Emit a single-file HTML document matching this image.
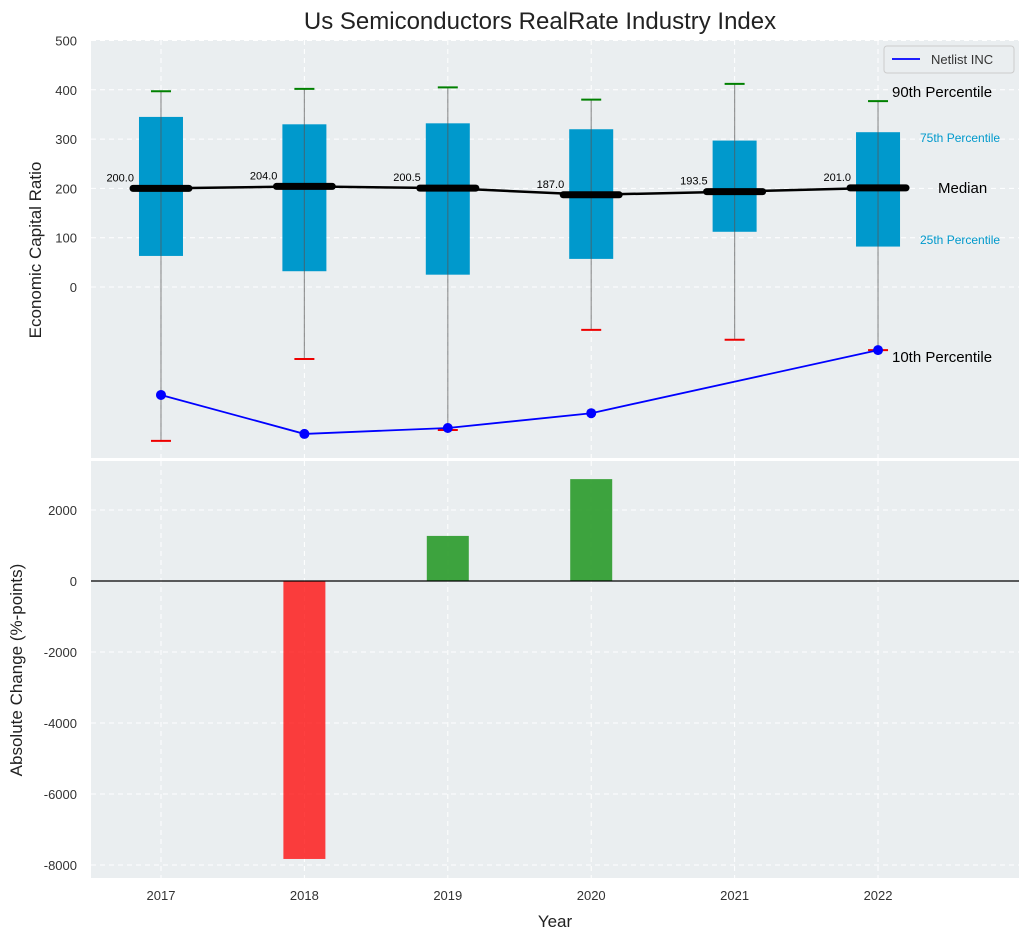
<!DOCTYPE html>
<html><head><meta charset="utf-8"><style>
body{margin:0;background:#fff;font-family:"Liberation Sans",sans-serif}
svg text{font-family:"Liberation Sans",sans-serif}
</style></head><body>
<svg id="c" width="1029" height="940" xmlns="http://www.w3.org/2000/svg"></svg>
<script>
const years=[2017,2018,2019,2020,2021,2022];
const q1=[63,32,25,57,112,82];
const q3=[345,330,332,320,297,314];
const medians=[200,204,200.5,187,193.5,201];
const p90=[397,402,405,380,412,377];
const p10=[-312,-146,-290,-87,-107,-128];
const netlist=[-219,-298,-286,-256,null,-128];
const changes=[null,-7830,1270,2870,null,null];
const topTicks=[0,100,200,300,400,500];
const botTicks=[-8000,-6000,-4000,-2000,0,2000];

const NS="http://www.w3.org/2000/svg";
const svg=document.getElementById('c');
function el(t,a,p){const e=document.createElementNS(NS,t);for(const k in a)e.setAttribute(k,a[k]);(p||svg).appendChild(e);return e;}
const L=91,R=1019;
const X0=2016.512,X1=2022.983;
const x=v=>L+(v-X0)/(X1-X0)*(R-L);
const yT=v=>287-v*0.493;
const yB=v=>581-v*0.0355;

let t=el('text',{x:540,y:29,'text-anchor':'middle','font-size':24,fill:'#222'});t.textContent='Us Semiconductors RealRate Industry Index';


let g1=el('g',{});
el('rect',{x:L,y:40,width:R-L,height:418,fill:'#eaeef0'},g1);
years.forEach(yr=>el('line',{x1:x(yr),x2:x(yr),y1:40,y2:458,stroke:'#fff','stroke-dasharray':'5,4','stroke-width':1},g1));
topTicks.forEach(v=>{el('line',{x1:L,x2:R,y1:yT(v),y2:yT(v),stroke:'#fff','stroke-dasharray':'5,4'},g1);
 const tt=el('text',{x:L-14,y:yT(v)+5,'text-anchor':'end','font-size':13,fill:'#333'},g1);tt.textContent=v;
 });
years.forEach((yr,i)=>{
 const cx=x(yr);
 const b=el('rect',{x:cx-22,y:yT(q3[i]),width:44,height:yT(q1[i])-yT(q3[i]),fill:'#0099cc'},g1);
 
 el('line',{x1:cx,x2:cx,y1:yT(p90[i]),y2:yT(p10[i]),stroke:'#555','stroke-opacity':0.6,'stroke-width':1.2},g1);
 el('line',{x1:cx-10,x2:cx+10,y1:yT(p90[i]),y2:yT(p90[i]),stroke:'#008000','stroke-width':2},g1);
 el('line',{x1:cx-10,x2:cx+10,y1:yT(p10[i]),y2:yT(p10[i]),stroke:'#e00','stroke-width':2},g1);
});
let mp=medians.map((m,i)=>x(years[i])+','+yT(m)).join(' ');
let ml=el('polyline',{points:mp,fill:'none',stroke:'#000','stroke-width':2.5},g1);

years.forEach((yr,i)=>{const cx=x(yr);
 el('line',{x1:cx-28,x2:cx+28,y1:yT(medians[i]),y2:yT(medians[i]),stroke:'#000','stroke-width':7,'stroke-linecap':'round'},g1);
 const tl=el('text',{x:cx-27,y:yT(medians[i])-7,'text-anchor':'end','font-size':11,fill:'#000'},g1);tl.textContent=medians[i].toFixed(1);
 });
let pts=[];netlist.forEach((v,i)=>{if(v!==null)pts.push([x(years[i]),yT(v)]);});
let nl=el('polyline',{points:pts.map(p=>p.join(',')).join(' '),fill:'none',stroke:'#0000ff','stroke-width':1.8},g1);

pts.forEach(p=>el('circle',{cx:p[0],cy:p[1],r:5,fill:'#0000ff'},g1));
[['90th Percentile',892,97,15,'#000'],['75th Percentile',920,142,12,'#0099cc'],['Median',938,193,15,'#000'],['25th Percentile',920,244,12,'#0099cc'],['10th Percentile',892,362,15,'#000']].forEach(a=>{
 const tx=el('text',{x:a[1],y:a[2],'font-size':a[3],fill:a[4]},g1);tx.textContent=a[0];
 });
let lg=el('g',{});
el('rect',{x:884,y:46,width:130,height:27,fill:'#eaeef0',stroke:'#ccc',rx:3},lg);
el('line',{x1:892,x2:920,y1:59,y2:59,stroke:'#0000ff','stroke-width':1.8},lg);
let lt=el('text',{x:931,y:64,'font-size':13,fill:'#333'},lg);lt.textContent='Netlist INC';
let yl=el('text',{x:41,y:250,'font-size':17,fill:'#222','text-anchor':'middle',transform:'rotate(-90 41 250)'});yl.textContent='Economic Capital Ratio';


let g2=el('g',{});
el('rect',{x:L,y:461,width:R-L,height:417,fill:'#eaeef0'},g2);
years.forEach(yr=>el('line',{x1:x(yr),x2:x(yr),y1:461,y2:878,stroke:'#fff','stroke-dasharray':'5,4'},g2));
botTicks.forEach(v=>{el('line',{x1:L,x2:R,y1:yB(v),y2:yB(v),stroke:'#fff','stroke-dasharray':'5,4'},g2);
 const tt=el('text',{x:L-14,y:yB(v)+5,'text-anchor':'end','font-size':13,fill:'#333'},g2);tt.textContent=v;
 });
changes.forEach((v,i)=>{if(v===null)return;const cx=x(years[i]);
 const r=el('rect',{x:cx-21,y:Math.min(yB(v),yB(0)),width:42,height:Math.abs(yB(v)-yB(0)),fill:v<0?'#ff0000':'#2a9a2a','fill-opacity':v<0?0.75:0.9},g2);
 });
el('line',{x1:L,x2:R,y1:yB(0),y2:yB(0),stroke:'#000','stroke-width':1.2},g2);
years.forEach(yr=>{const tt=el('text',{x:x(yr),y:900,'text-anchor':'middle','font-size':13,fill:'#333'});tt.textContent=yr;
 });
let xl=el('text',{x:555,y:927,'text-anchor':'middle','font-size':17,fill:'#222'});xl.textContent='Year';

let yl2=el('text',{x:22,y:670,'font-size':17,fill:'#222','text-anchor':'middle',transform:'rotate(-90 22 670)'});yl2.textContent='Absolute Change (%-points)';

</script>
</body></html>
